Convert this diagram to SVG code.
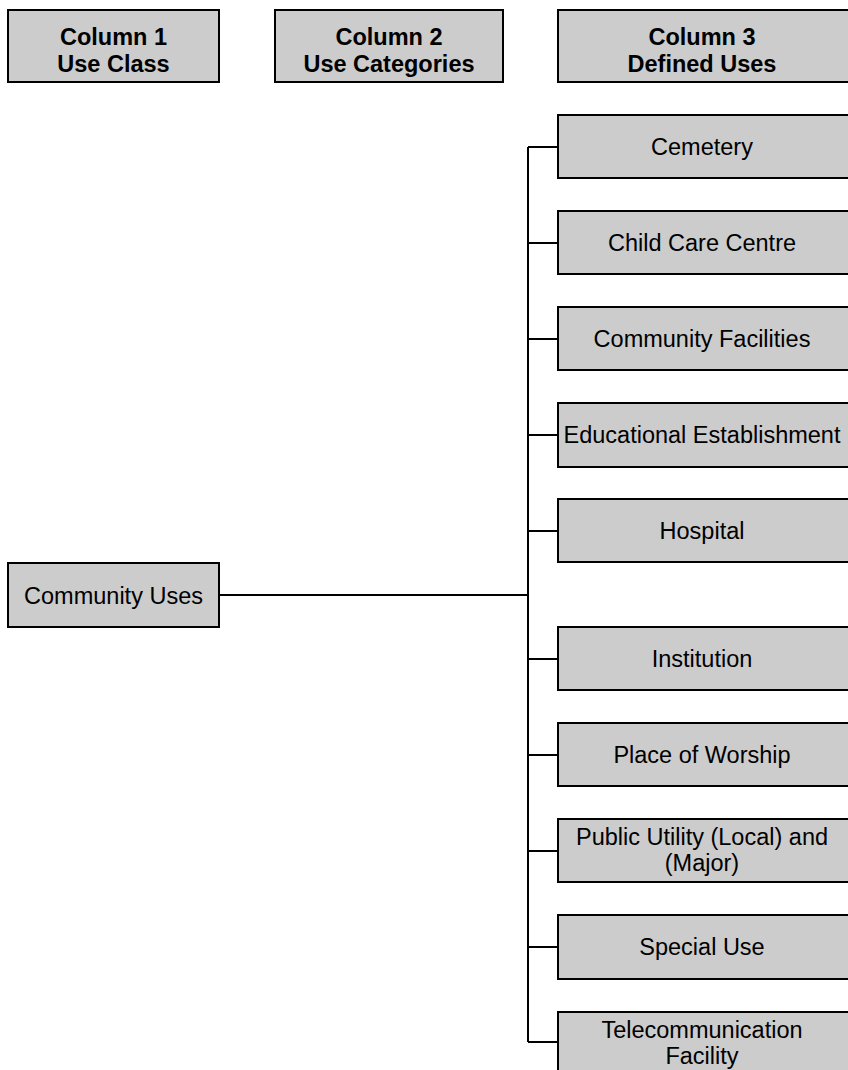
<svg xmlns="http://www.w3.org/2000/svg" width="848" height="1070" viewBox="0 0 848 1070">
  <style>
    .box { fill: #cccccc; stroke: #000000; stroke-width: 2; }
    .hd { font-family: "Liberation Sans", Arial, sans-serif; font-size: 23.5px; font-weight: bold; fill: #000000; text-anchor: middle; }
    .lb { font-family: "Liberation Sans", Arial, sans-serif; font-size: 23.5px; fill: #000000; text-anchor: middle; }
    .ln { fill: none; stroke: #000000; stroke-width: 2; }
  </style>
  <rect width="848" height="1070" fill="#ffffff"/>

  <!-- column headers -->
  <g id="header-col1">
    <rect class="box" x="8" y="10" width="211" height="72"/>
    <text class="hd" x="113.5" y="45">Column 1</text>
    <text class="hd" x="113.5" y="72">Use Class</text>
  </g>
  <g id="header-col2">
    <rect class="box" x="275" y="10" width="228" height="72"/>
    <text class="hd" x="389" y="45">Column 2</text>
    <text class="hd" x="389" y="72">Use Categories</text>
  </g>
  <g id="header-col3">
    <rect class="box" x="558" y="10" width="292" height="72"/>
    <text class="hd" x="702" y="45">Column 3</text>
    <text class="hd" x="702" y="72">Defined Uses</text>
  </g>

  <!-- connectors -->
  <g id="connectors">
    <path class="ln" d="M219 595 H528"/>
    <path class="ln" d="M528 147 V1042"/>
    <path class="ln" d="M528 147 H558 M528 243 H558 M528 339 H558 M528 435 H558 M528 531 H558 M528 659 H558 M528 755 H558 M528 851 H558 M528 947 H558 M528 1042 H558"/>
  </g>

  <!-- use class -->
  <g id="community-uses">
    <rect class="box" x="8" y="563" width="211" height="64"/>
    <text class="lb" x="113.5" y="603.5">Community Uses</text>
  </g>

  <!-- defined uses -->
  <g id="cemetery">
    <rect class="box" x="558" y="115" width="292" height="63"/>
    <text class="lb" x="702" y="155">Cemetery</text>
  </g>
  <g id="child-care-centre">
    <rect class="box" x="558" y="211" width="292" height="63"/>
    <text class="lb" x="702" y="251">Child Care Centre</text>
  </g>
  <g id="community-facilities">
    <rect class="box" x="558" y="307" width="292" height="63"/>
    <text class="lb" x="702" y="347">Community Facilities</text>
  </g>
  <g id="educational-establishment">
    <rect class="box" x="558" y="403" width="292" height="64"/>
    <text class="lb" x="702" y="443">Educational Establishment</text>
  </g>
  <g id="hospital">
    <rect class="box" x="558" y="499" width="292" height="63"/>
    <text class="lb" x="702" y="539">Hospital</text>
  </g>
  <g id="institution">
    <rect class="box" x="558" y="627" width="292" height="63"/>
    <text class="lb" x="702" y="667">Institution</text>
  </g>
  <g id="place-of-worship">
    <rect class="box" x="558" y="723" width="292" height="63"/>
    <text class="lb" x="702" y="763">Place of Worship</text>
  </g>
  <g id="public-utility">
    <rect class="box" x="558" y="819" width="292" height="63"/>
    <text class="lb" x="702" y="845">Public Utility (Local) and</text>
    <text class="lb" x="702" y="871">(Major)</text>
  </g>
  <g id="special-use">
    <rect class="box" x="558" y="915" width="292" height="64"/>
    <text class="lb" x="702" y="955">Special Use</text>
  </g>
  <g id="telecommunication-facility">
    <rect class="box" x="558" y="1012" width="292" height="70"/>
    <text class="lb" x="702" y="1038">Telecommunication</text>
    <text class="lb" x="702" y="1064">Facility</text>
  </g>
</svg>
